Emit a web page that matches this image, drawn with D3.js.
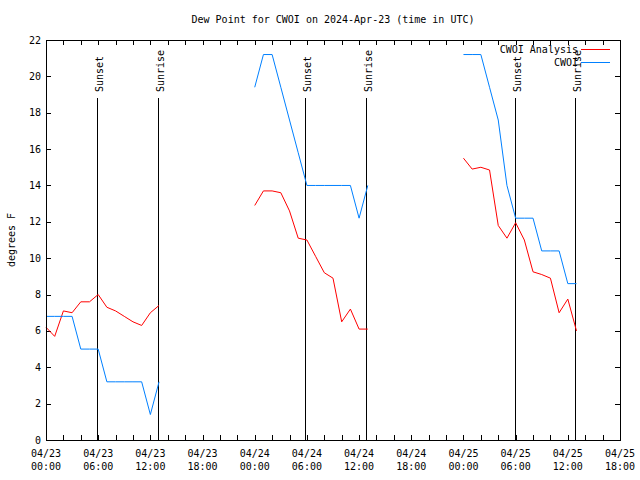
<!DOCTYPE html>
<html>
<head>
<meta charset="utf-8">
<script src="https://cdn.jsdelivr.net/npm/d3@7"></script>
<style>
  html, body { margin: 0; padding: 0; background: #fff; }
  svg { display: block; }
  text { font-family: "DejaVu Sans Mono", monospace; font-size: 10px; fill: #000; }
</style>
</head>
<body>
<script>
// ---------------- data ----------------
const startTime = "2024-04-23T00:00:00Z";
const endTime = "2024-04-25T18:00:00Z";
const chartTitle = "Dew Point for CWOI on 2024-Apr-23 (time in UTC)";
const yLabel = "degrees F";
const seriesNames = ["CWOI Analysis", "CWOI"];
const seriesColors = ["#ff0000", "#0080ff"];

// hours since start (UTC)
const analysisHours = [0,1,2,3,4,5,6,7,8,9,10,11,12,13,
                       24,25,26,27,28,29,30,31,32,33,34,35,36,37,
                       48,49,50,51,52,53,54,55,56,57,58,59,60,61];
const analysisValues = [6.2,5.7,7.1,7.0,7.6,7.6,8.0,7.3,7.1,6.8,6.5,6.3,7.0,7.4,
                        12.9,13.7,13.7,13.6,12.6,11.1,11.0,10.1,9.2,8.9,6.5,7.2,6.1,6.1,
                        15.5,14.9,15.0,14.85,11.8,11.1,11.95,11.0,9.25,9.1,8.9,7.0,7.75,6.0];

const obsHours = [0,1,2,3,4,5,6,7,8,9,10,11,12,13,
                  24,25,26,27,28,29,30,31,32,33,34,35,36,37,
                  48,49,50,51,52,53,54,55,56,57,58,59,60,61];
const obsValues = [6.8,6.8,6.8,6.8,5.0,5.0,5.0,3.2,3.2,3.2,3.2,3.2,1.4,3.2,
                   19.4,21.2,21.2,19.4,17.6,15.8,14.0,14.0,14.0,14.0,14.0,14.0,12.2,14.0,
                   21.2,21.2,21.2,19.4,17.6,14.0,12.2,12.2,12.2,10.4,10.4,10.4,8.6,8.6];

// sun events (hours since start)
const sunsetHours = [5.85, 29.83, 53.9];
const sunriseHours = [12.9, 36.85, 60.87];

const yTicks = [0,2,4,6,8,10,12,14,16,18,20,22];

// ---------------- chart ----------------
const W = 640, H = 480;
const mLeft = 46, mRight = 620, mTop = 40, mBottom = 440;

const t0 = new Date(startTime);
const hourToDate = h => new Date(t0.getTime() + h * 3600e3);

const svg = d3.select("body").append("svg").attr("width", W).attr("height", H);

const x = d3.scaleUtc().domain([t0, new Date(endTime)]).range([mLeft, mRight]);
const y = d3.scaleLinear().domain([0, 22]).range([mBottom, mTop]);

// title
svg.append("text").attr("x", 333).attr("y", 23).attr("text-anchor", "middle").text(chartTitle);

// y label
svg.append("text").attr("transform", "translate(15,240) rotate(-90)")
  .attr("text-anchor", "middle").text(yLabel);

// ticks (inward) on all four sides
const tickLen = 5;
const g = svg.append("g").attr("shape-rendering", "crispEdges").attr("stroke", "#000");

const xMinorTicks = x.ticks(d3.utcHour.every(2));
xMinorTicks.forEach(d => {
  const xx = Math.round(x(d)) + 0.5;
  g.append("line").attr("x1", xx).attr("x2", xx).attr("y1", mBottom).attr("y2", mBottom - tickLen);
  g.append("line").attr("x1", xx).attr("x2", xx).attr("y1", mTop).attr("y2", mTop + tickLen);
});
yTicks.forEach(v => {
  const yy = Math.round(y(v)) + 0.5;
  g.append("line").attr("x1", mLeft).attr("x2", mLeft + tickLen).attr("y1", yy).attr("y2", yy);
  g.append("line").attr("x1", mRight).attr("x2", mRight - tickLen).attr("y1", yy).attr("y2", yy);
});

// y tick labels
svg.append("g").selectAll("text").data(yTicks).join("text")
  .attr("x", 41).attr("y", d => y(d)).attr("dy", "0.35em").attr("text-anchor", "end")
  .text(d => d);

// x tick labels (every 6 hours, two lines)
const xMajor = x.ticks(d3.utcHour.every(6));
const fmtDate = d3.utcFormat("%m/%d"), fmtTime = d3.utcFormat("%H:%M");
const xl = svg.append("g").selectAll("g").data(xMajor).join("g");
xl.append("text").attr("x", d => x(d)).attr("y", 456.5).attr("text-anchor", "middle").text(d => fmtDate(d));
xl.append("text").attr("x", d => x(d)).attr("y", 469.5).attr("text-anchor", "middle").text(d => fmtTime(d));

// sun lines
function sunLine(h, label) {
  const xx = Math.round(x(hourToDate(h))) + 0.5;
  svg.append("line").attr("x1", xx).attr("x2", xx).attr("y1", 98).attr("y2", mBottom)
    .attr("stroke", "#000").attr("shape-rendering", "crispEdges");
  svg.append("text").attr("transform", `translate(${xx + 5},92) rotate(-90)`)
    .attr("text-anchor", "start").text(label);
}
sunsetHours.forEach(h => sunLine(h, "Sunset"));
sunriseHours.forEach(h => sunLine(h, "Sunrise"));

// series (break line where gap > 2 h)
function drawSeries(hours, values, color) {
  const pts = hours.map((h, i) => ({ t: hourToDate(h), h, v: values[i] }));
  const segs = [];
  let cur = [];
  pts.forEach((p, i) => {
    if (i > 0 && p.h - pts[i - 1].h > 2) { segs.push(cur); cur = []; }
    cur.push(p);
  });
  segs.push(cur);
  const line = d3.line().x(d => x(d.t)).y(d => y(d.v));
  segs.forEach(s => svg.append("path").attr("d", line(s)).attr("fill", "none")
    .attr("stroke", color).attr("stroke-width", 1));
}
drawSeries(analysisHours, analysisValues, seriesColors[0]);
drawSeries(obsHours, obsValues, seriesColors[1]);

// frame
svg.append("rect").attr("x", mLeft + 0.5).attr("y", mTop + 0.5)
  .attr("width", mRight - mLeft).attr("height", mBottom - mTop)
  .attr("fill", "none").attr("stroke", "#000").attr("shape-rendering", "crispEdges");

// legend
seriesNames.forEach((n, i) => {
  const ly = 49 + i * 13;
  svg.append("text").attr("x", 578).attr("y", ly).attr("dy", "0.35em").attr("text-anchor", "end").text(n);
  svg.append("line").attr("x1", 581).attr("x2", 610).attr("y1", ly + 0.5).attr("y2", ly + 0.5)
    .attr("stroke", seriesColors[i]).attr("shape-rendering", "crispEdges");
});
</script>
</body>
</html>
